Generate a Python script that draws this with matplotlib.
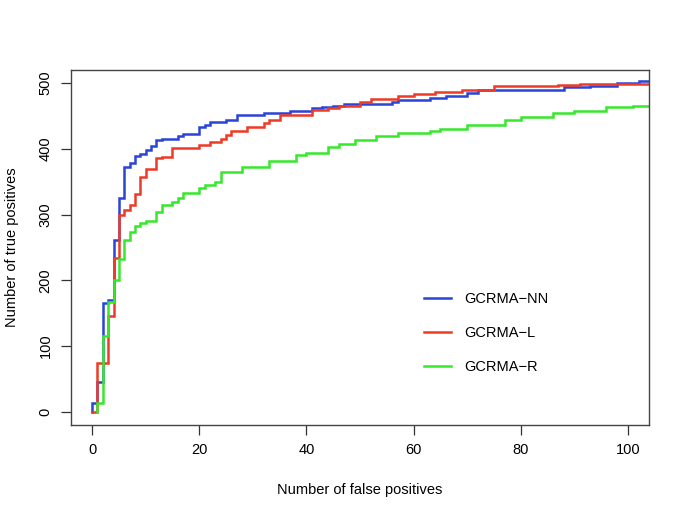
import matplotlib
matplotlib.use("Agg")
import matplotlib.pyplot as plt

plt.rcParams['font.family'] = ['Liberation Sans', 'DejaVu Sans']

# GCRMA-NN (blue)
nn_fp = [0, 0, 1, 2, 3, 4, 5, 6, 7, 8, 9, 10, 11, 12, 13, 16, 17, 20, 21, 22, 25, 27,
         32, 37, 41, 43, 45, 47, 56, 57, 63, 66, 70, 72, 88, 93, 98, 102, 104]
nn_tp = [0, 14, 45, 166, 170, 262, 325, 372, 378, 389, 392, 399, 405, 414, 415, 420, 423,
         433, 437, 441, 444, 452, 454, 457, 462, 464, 466, 468, 472, 474, 478, 481, 485,
         489, 494, 496, 500, 504, 504]
# GCRMA-L (red)
l_fp = [0, 1, 3, 4, 5, 6, 7, 8, 9, 10, 12, 13, 15, 20, 22, 24, 25, 26, 29, 32, 33, 35,
        41, 44, 46, 50, 52, 57, 60, 64, 67, 69, 75, 87, 91, 104]
l_tp = [0, 75, 146, 234, 300, 307, 315, 332, 358, 369, 386, 388, 401, 406, 411, 415, 421,
        428, 434, 439, 444, 452, 459, 462, 466, 472, 476, 480, 483, 486, 487, 490, 495,
        497, 499, 499]
# GCRMA-R (green)
r_fp = [1, 1, 2, 3, 4, 5, 6, 7, 8, 9, 10, 12, 13, 15, 16, 17, 20, 21, 23, 24, 28, 33,
        38, 40, 44, 46, 49, 53, 57, 63, 65, 70, 77, 80, 86, 90, 96, 101, 104]
r_tp = [0, 14, 116, 167, 201, 232, 261, 274, 282, 287, 291, 304, 315, 320, 326, 333, 340,
        345, 350, 365, 373, 381, 390, 394, 403, 408, 413, 420, 424, 428, 431, 437, 444,
        448, 455, 458, 463, 466, 466]

labels = ["GCRMA\u2212NN", "GCRMA\u2212L", "GCRMA\u2212R"]
colors = ["#2b43d6", "#ec3b26", "#35e82a"]
xticks = [0, 20, 40, 60, 80, 100]
yticks = [0, 100, 200, 300, 400, 500]

fig = plt.figure(figsize=(6.85, 5.13), dpi=100)
ax = fig.add_axes([0.1032, 0.1715, 0.8447, 0.692])

for fp, tp, c in zip([nn_fp, l_fp, r_fp], [nn_tp, l_tp, r_tp], colors):
    ax.step(fp, tp, where='post', color=c, lw=1.8, solid_joinstyle='miter')

ax.set_xlim(-4, 104)
ax.set_ylim(-20, 520)
ax.set_xticks(xticks)
ax.set_yticks(yticks)
ax.set_yticklabels([str(v) for v in yticks], rotation=90, va='center')
ax.tick_params(axis='both', direction='out', length=7, width=0.9, color='#333333',
               labelsize=10.5, pad=6)
for s in ax.spines.values():
    s.set_color('#444444')
    s.set_linewidth(1.0)

ax.set_xlabel("Number of false positives", fontsize=10.5, labelpad=19)
ax.set_ylabel("Number of true positives", fontsize=10.5, labelpad=14)

leg = ax.legend(labels, loc='upper left', bbox_to_anchor=(0.588, 0.412), frameon=False,
                fontsize=10.5, handlelength=1.85, handletextpad=0.9, labelspacing=1.38)
for h, c in zip(leg.get_lines(), colors):
    h.set_color(c)

fig.savefig("out.png", dpi=100)
